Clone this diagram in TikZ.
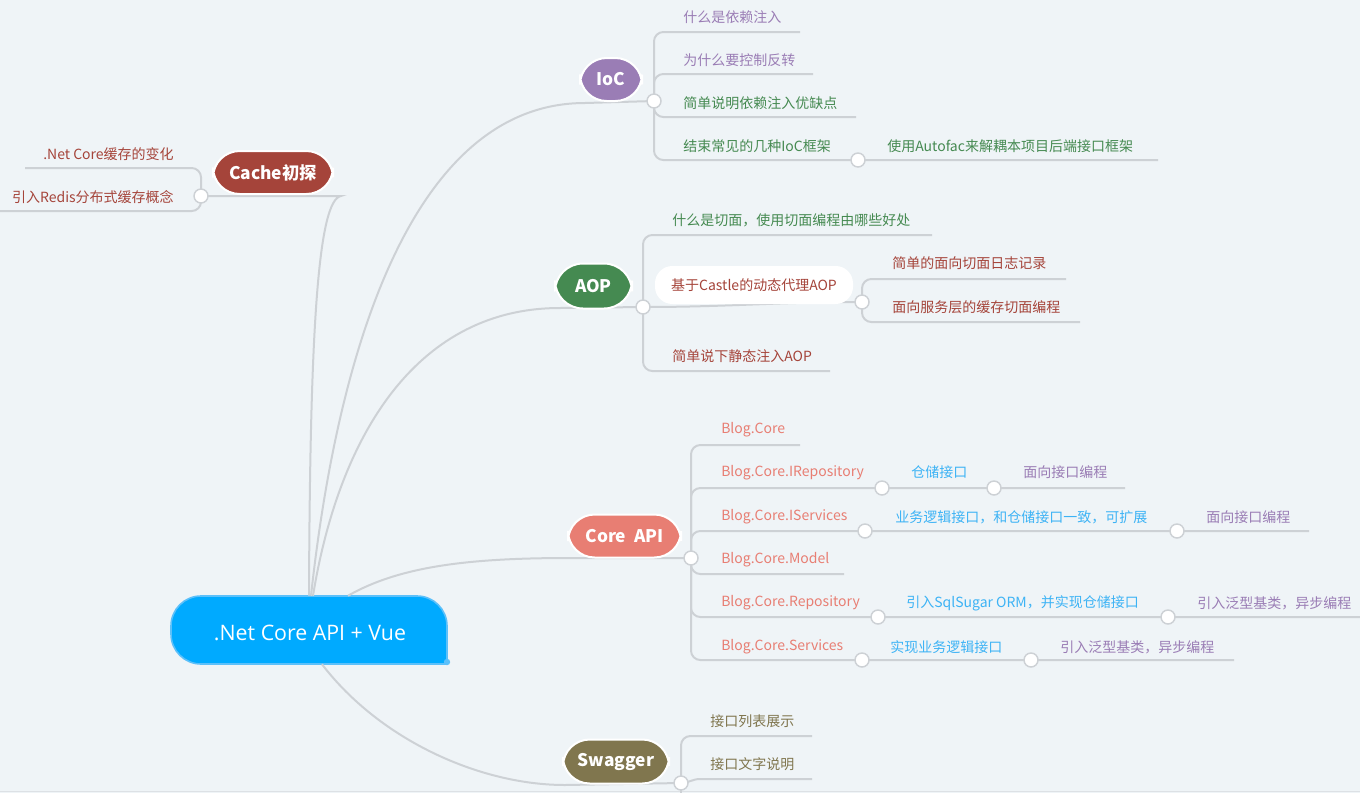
\documentclass[tikz,border=0pt]{standalone}
\usepackage{fontspec}
\setmainfont{Noto Sans CJK SC}
\newfontfamily\osans{Open Sans}
\usetikzlibrary{calc}
\definecolor{bg}{HTML}{EFF4F7}
\definecolor{lk}{HTML}{CDD1D5}
\definecolor{edgeln}{HTML}{DDE1E5}
\definecolor{purp}{HTML}{9A7DB5}
\definecolor{grn}{HTML}{458A51}
\definecolor{rbr}{HTML}{A5443A}
\definecolor{salm}{HTML}{E87E73}
\definecolor{blu}{HTML}{3DB3F5}
\definecolor{oliv}{HTML}{80764E}
\definecolor{rootC}{HTML}{00AAFF}
\definecolor{rootB}{HTML}{5CC0FA}
\begin{document}
\begin{tikzpicture}[x=0.75pt,y=-0.75pt,
  link/.style={draw=lk, line width=1.5pt},
  rc/.style={rounded corners=7pt},
  dot/.style={circle, draw=lk, fill=white, line width=1.1pt, minimum size=10.5pt, inner sep=0pt},
  pill/.style={draw=white, line width=1.5pt, text=white, inner sep=0pt, font=\bfseries\fontsize{13}{15}\selectfont},
  lbl/.style={anchor=west, inner sep=0pt, yshift=-1.5pt, font=\fontsize{10.5}{12}\selectfont}]
\fill[bg] (0,0) rectangle (1360,793);
\useasboundingbox (0,0) rectangle (1360,793);
\draw[edgeln, line width=0.75pt] (0,791) -- (1360,791);

% root
\path[fill=rootC, draw=rootB, line width=1.2pt] (447,664) -- (447,626) .. controls (447,609.4) and (433.6,596) .. (417,596) -- (201,596) .. controls (184.4,596) and (171,609.4) .. (171,626) -- (171,634) .. controls (171,650.6) and (184.4,664) .. (201,664) -- cycle;
\fill[rootB] (447,662) circle[radius=2.4pt];
\node[minimum width=207pt, minimum height=51pt, inner sep=0pt] (root) at (309,630) {};
\node[inner sep=0pt, text=white, font=\osans\fontsize{16}{19}\selectfont] (roottxt) at (310,633) {.Net Core API + Vue};

% junction coordinates
\coordinate (cC) at (201,196);
\coordinate (cI) at (654,101);
\coordinate (cI4) at (858,160);
\coordinate (cA) at (643,307);
\coordinate (cA2) at (862,302);
\coordinate (cK) at (691,558);
\coordinate (cK2a) at (882,488);
\coordinate (cK2b) at (994,488);
\coordinate (cK3a) at (865,531);
\coordinate (cK3b) at (1177,531);
\coordinate (cK5a) at (878,617);
\coordinate (cK5b) at (1168,617);
\coordinate (cK6a) at (862,660);
\coordinate (cK6b) at (1031,660);
\coordinate (cS) at (681,783);

% main branches
\draw[link] ($(root.north)+(0,0)$) .. controls (310,330) and (318,200) .. (341,196) -- (cC);
\draw[link] ($(root.north)+(2,0)$) .. controls (340,330) and (420,103) .. (585,103) -- (cI);
\draw[link] ($(root.north)+(4,0)$) .. controls (340,430) and (420,308) .. (560,308) -- (cA);
\draw[link] ($(root.north)+(39,0)$) .. controls (400,566) and (470,558) .. (570,558) -- (cK);
\draw[link] ($(root.south)+(13,0)$) .. controls (380,740) and (480,785) .. (565,785) -- (cS);

% Cache children
\draw[link,rc] (cC) |- (25,168);
\draw[link,rc] (cC) |- (0,211);
% IoC children
\draw[link,rc] (cI) |- (800,32);
\draw[link,rc] (cI) |- (813,74);
\draw[link,rc] (cI) |- (856,117);
\draw[link,rc] (cI) |- (cI4) -- (1158,160);
% AOP children
\draw[link,rc] (cA) |- (932,235);
\draw[link] (cA) to[out=0,in=180] (cA2);
\draw[link,rc] (cA) |- (830,371);
\draw[link,rc] (cA2) |- (1066,279);
\draw[link,rc] (cA2) |- (1080,322);
% Core children
\draw[link,rc] (cK) |- (800,445);
\draw[link,rc] (cK) |- (cK2a) -- (cK2b) -- (1125,488);
\draw[link,rc] (cK) |- (cK3a) -- (cK3b) -- (1309,531);
\draw[link,rc] (cK) |- (844,574);
\draw[link,rc] (cK) |- (cK5a) -- (cK5b) -- (1360,617);
\draw[link,rc] (cK) |- (cK6a) -- (cK6b) -- (1234,660);
% Swagger children
\draw[link,rc] (cS) |- (812,736);
\draw[link] (cS) to[out=0,in=180] (700,779) -- (812,779);
\draw[link] (cS) -- (681,793);

% topic pills
\node[pill, fill=rbr, rounded corners=20pt, minimum width=90pt, minimum height=32.25pt] (cache) at (273,172.5) {Cache初探};
\node[pill, fill=purp, rounded corners=20pt, minimum width=46.5pt, minimum height=32.25pt] (ioc) at (611,79.5) {IoC};
\node[pill, fill=grn, rounded corners=21pt, minimum width=57.75pt, minimum height=33.75pt] (aop) at (593.5,286) {AOP};
\node[pill, fill=salm, rounded corners=20pt, minimum width=84.75pt, minimum height=32.25pt] (core) at (624.5,536) {Core~~API};
\node[pill, fill=oliv, rounded corners=20pt, minimum width=79.5pt, minimum height=33pt] (swag) at (616,761.5) {Swagger};

% Cache labels
\node[lbl, anchor=east, text=rbr] (cc1) at (174,152) {.Net Core缓存的变化};
\node[lbl, anchor=east, text=rbr] (cc2) at (174,195) {引入Redis分布式缓存概念};
% IoC labels
\node[lbl, text=purp] (i1) at (683,15) {什么是依赖注入};
\node[lbl, text=purp] (i2) at (683,58) {为什么要控制反转};
\node[lbl, text=grn] (i3) at (683,101) {简单说明依赖注入优缺点};
\node[lbl, text=grn] (i4) at (683,144) {结束常见的几种IoC框架};
\node[lbl, text=grn] (i5) at (887,144) {使用Autofac来解耦本项目后端接口框架};
% AOP labels
\node[lbl, text=grn] (a1) at (672,218) {什么是切面，使用切面编程由哪些好处};
\node[fill=white, rounded corners=13pt, minimum width=148.5pt, minimum height=28.5pt, inner sep=0pt, text=rbr, font=\fontsize{10.5}{12}\selectfont] (a2) at (754,285) {基于Castle的动态代理AOP};
\node[lbl, text=rbr] (a3) at (672,354) {简单说下静态注入AOP};
\node[lbl, text=rbr] (a21) at (892,261) {简单的面向切面日志记录};
\node[lbl, text=rbr] (a22) at (892,305) {面向服务层的缓存切面编程};
% Core labels
\node[lbl, text=salm] (k1) at (721,428) {Blog.Core};
\node[lbl, text=salm] (k2) at (721,471) {Blog.Core.IRepository};
\node[lbl, text=salm] (k3) at (721,515) {Blog.Core.IServices};
\node[lbl, text=salm] (k4) at (721,558) {Blog.Core.Model};
\node[lbl, text=salm] (k5) at (721,601) {Blog.Core.Repository};
\node[lbl, text=salm] (k6) at (721,645) {Blog.Core.Services};
\node[lbl, text=blu] (k21) at (911,470) {仓储接口};
\node[lbl, text=purp] (k22) at (1023,470) {面向接口编程};
\node[lbl, text=blu] (k31) at (895,515) {业务逻辑接口，和仓储接口一致，可扩展};
\node[lbl, text=purp] (k32) at (1206,515) {面向接口编程};
\node[lbl, text=blu] (k51) at (906,601) {引入SqlSugar ORM，并实现仓储接口};
\node[lbl, text=purp] (k52) at (1197,601) {引入泛型基类，异步编程};
\node[lbl, text=blu] (k61) at (890,645) {实现业务逻辑接口};
\node[lbl, text=purp] (k62) at (1060,645) {引入泛型基类，异步编程};
% Swagger labels
\node[lbl, text=oliv] (s1) at (710,719) {接口列表展示};
\node[lbl, text=oliv] (s2) at (710,762) {接口文字说明};

% junction dots
\node[dot] (dC) at (cC) {};
\node[dot] (dI) at (cI) {};
\node[dot] (dI4) at (cI4) {};
\node[dot] (dA) at (cA) {};
\node[dot] (dA2) at (cA2) {};
\node[dot] (dK) at (cK) {};
\node[dot] (dK2a) at (cK2a) {};
\node[dot] (dK2b) at (cK2b) {};
\node[dot] (dK3a) at (cK3a) {};
\node[dot] (dK3b) at (cK3b) {};
\node[dot] (dK5a) at (cK5a) {};
\node[dot] (dK5b) at (cK5b) {};
\node[dot] (dK6a) at (cK6a) {};
\node[dot] (dK6b) at (cK6b) {};
\node[dot] (dS) at (cS) {};
\end{tikzpicture}
\end{document}
